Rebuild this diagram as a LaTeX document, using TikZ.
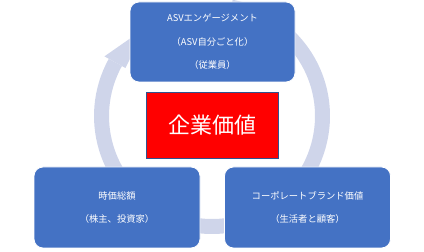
\documentclass[tikz,border=0pt]{standalone}
\usepackage{fontspec}
\setmainfont{Noto Sans CJK JP}
\usetikzlibrary{calc}
\definecolor{boxblue}{HTML}{4472C4}
\definecolor{ringcol}{HTML}{CFD5EA}
\definecolor{redborder}{HTML}{2F528F}
\tikzset{
  bluebox/.style={fill=boxblue, draw=white, line width=0.8pt, rounded corners=9pt,
    text=white, align=center, inner sep=0pt,
    font=\fontsize{9.3}{23.5}\selectfont},
  redbox/.style={fill=red, draw=redborder, line width=0.8pt, text=white,
    inner sep=0pt, font=\fontsize{22}{26}\selectfont},
  ringband/.style={draw=ringcol, line width=15pt},
  ringhead/.style={fill=ringcol}
}
\begin{document}
\begin{tikzpicture}[x=1pt,y=1pt]
\useasboundingbox (0,0) rectangle (424,252);
\coordinate (c) at (212,136);
% ring band
\draw[ringband] (c) ++(80:110.5) arc[start angle=80, end angle=-209, radius=110.5];
% arrowhead
\fill[ringhead] ($(c)+(151:123)$) -- ($(c)+(127:110.5)$) -- ($(c)+(151:99)$) -- cycle;
% boxes
\node[bluebox, minimum width=165pt, minimum height=80pt] (top) at (212.5,210)
  {ASVエンゲージメント\\（ASV自分ごと化）\\（従業員）};
\node[bluebox, minimum width=166pt, minimum height=81pt] (bl) at (117,44.5)
  {時価総額\\（株主、投資家）};
\node[bluebox, minimum width=166pt, minimum height=81pt] (br) at (307.5,44.5)
  {コーポレートブランド価値\\（生活者と顧客）};
\node[redbox, minimum width=132pt, minimum height=66pt] (core) at (212,127) {企業価値};
\end{tikzpicture}
\end{document}
